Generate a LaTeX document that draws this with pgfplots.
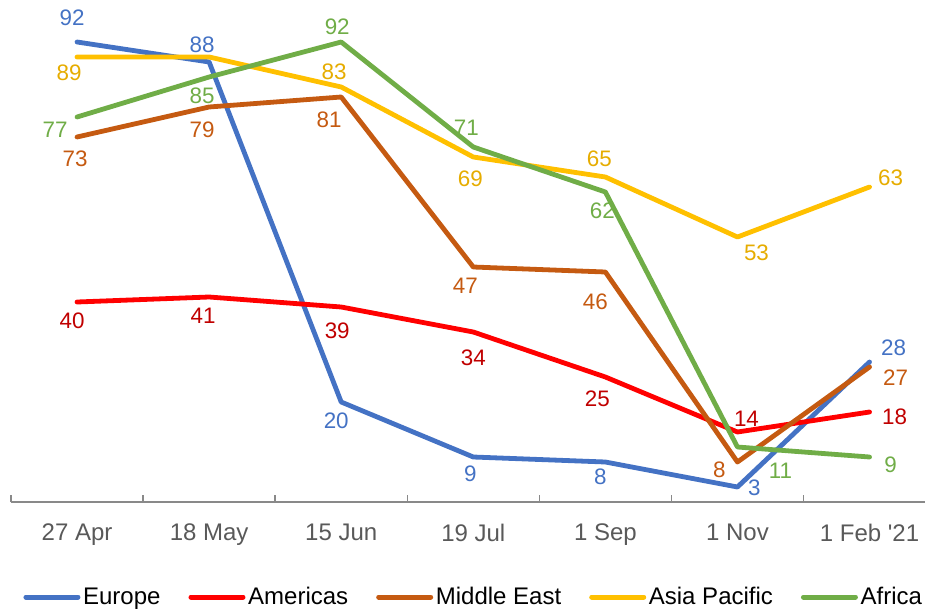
\documentclass[border=0pt]{standalone}
\usepackage{pgfplots}
\pgfplotsset{compat=1.18}
\usepackage{pgfplotstable}
\usepackage{fontspec}
\setmainfont{Liberation Sans}

\definecolor{eu}{HTML}{4472C4}
\definecolor{am}{HTML}{FF0000}
\definecolor{amlab}{HTML}{C00000}
\definecolor{me}{HTML}{C55A11}
\definecolor{ap}{HTML}{FFC000}
\definecolor{aplab}{HTML}{E6AC00}
\definecolor{af}{HTML}{70AD47}
\definecolor{axgray}{HTML}{898989}
\definecolor{txtgray}{HTML}{595959}

% x y, label offset in px (dx right, dy down), label text
\pgfplotstableread{
x y dx dy lab
0 92 -5 -24 92
1 88 -7 -17 88
2 20 -5 19 20
3 9 -3 17 9
4 8 -5 15 8
5 3 17 1 3
6 28 24 -14 28
}\europe
\pgfplotstableread{
x y dx dy lab
0 40 -5 19 40
1 41 -6 19 41
2 39 -4 24 39
3 34 0 26 34
4 25 -8 22 25
5 14 9 -13 14
6 18 25 5 18
}\americas
\pgfplotstableread{
x y dx dy lab
0 73 -2 22 73
1 79 -7 23 79
2 81 -12 23 81
3 47 -8 19 47
4 46 -10 30 46
5 8 -18 8 8
6 27 26 11 27
}\mideast
\pgfplotstableread{
x y dx dy lab
0 89 -8 16 89
1 89 0 0 {}
2 83 -7 -15 83
3 69 -3 22 69
4 65 -6 -18 65
5 53 19 16 53
6 63 21 -9 63
}\asiapac
\pgfplotstableread{
x y dx dy lab
0 77 -22 13 77
1 85 -7 19 85
2 92 -4 -15 92
3 71 -7 -19 71
4 62 -3 19 62
5 11 43 24 11
6 9 21 8 9
}\africa

\pgfplotsset{
  series/.style={
    line width=3.6pt, line cap=round, line join=round, mark=none,
    nodes near coords, point meta=explicit symbolic,
    visualization depends on={\thisrow{dx}\as\dx},
    visualization depends on={\thisrow{dy}\as\dy},
    every node near coord/.append style={anchor=center, inner sep=0pt,
      xshift=\dx*0.75pt, yshift=-\dy*0.75pt, text=#1},
  },
}

\begin{document}
\begin{tikzpicture}
\begin{axis}[
  name=ax,
  scale only axis,
  width=685.5pt, height=375pt,
  xmin=-0.5, xmax=6.42,
  ymin=0, ymax=100,
  clip=false,
  axis x line*=bottom,
  axis y line=none,
  axis line style={axgray, line width=1.1pt, -},
  xtick={0,...,6},
  xticklabels={27 Apr,18 May,15 Jun,19 Jul,1 Sep,1 Nov,1 Feb \textquotesingle21},
  major tick length=0pt,
  extra x ticks={-0.5,0.5,1.5,2.5,3.5,4.5,5.5},
  extra x tick labels={},
  extra x tick style={major tick length=5.25pt, tick align=inside,
    tick style={axgray, line width=1.1pt}},
  xticklabel style={text=txtgray, yshift=-13pt},
  tick label style={font=\fontsize{18}{21}\selectfont},
  nodes near coords style={font=\fontsize{16.8}{20}\selectfont},
  legend style={at={(0.5066,-0.19)}, anchor=center, draw=none,
    font=\fontsize{18}{21}\selectfont, column sep=0pt,
    /tikz/every even column/.append style={column sep=19pt}},
  legend columns=-1,
  legend image code/.code={\draw[#1, line width=3.75pt, line cap=round] (0pt,0pt) -- (39pt,0pt);},
]
\addplot[eu, series=eu] table[x=x, y=y, meta=lab] {\europe};
\addlegendentry{Europe}
\addplot[am, series=amlab] table[x=x, y=y, meta=lab] {\americas};
\addlegendentry{Americas}
\addplot[me, series=me] table[x=x, y=y, meta=lab] {\mideast};
\addlegendentry{Middle East}
\addplot[ap, series=aplab] table[x=x, y=y, meta=lab] {\asiapac};
\addlegendentry{Asia Pacific}
\addplot[af, series=af] table[x=x, y=y, meta=lab] {\africa};
\addlegendentry{Africa}
\end{axis}
\pgfresetboundingbox
\path[use as bounding box] ([xshift=-8.25pt, yshift=-81.75pt]ax.south west) rectangle ([yshift=1.5pt]ax.north east);
\end{tikzpicture}
\end{document}
